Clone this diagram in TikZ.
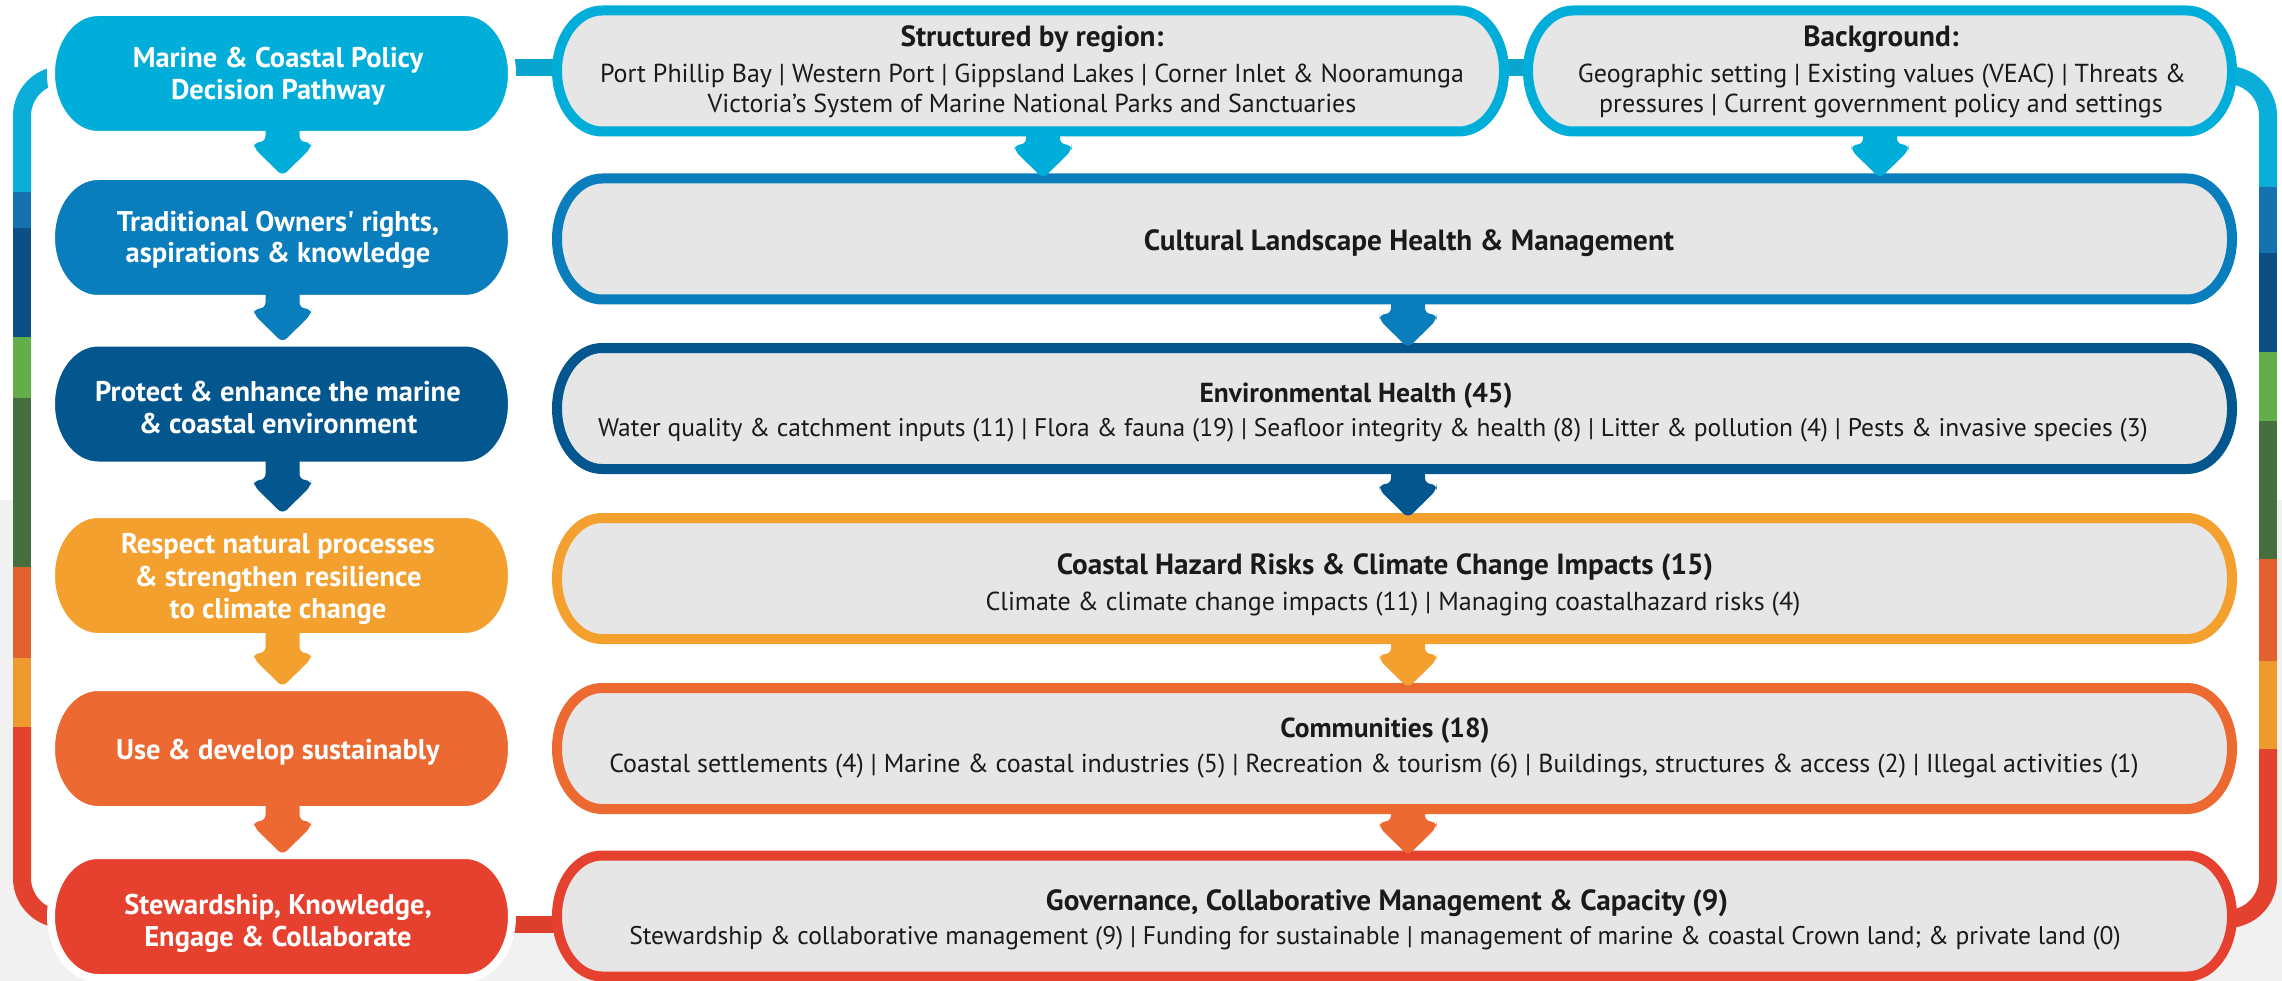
\documentclass[tikz,border=0pt]{standalone}
\usepackage{fontspec}
\setmainfont{PT Sans}
\usetikzlibrary{calc}
\definecolor{cCyan}{HTML}{00AED9}
\definecolor{cBlue}{HTML}{0A7DBC}
\definecolor{cDark}{HTML}{04568E}
\definecolor{cYel}{HTML}{F4A02E}
\definecolor{cOra}{HTML}{EC6A32}
\definecolor{cRed}{HTML}{E6412E}
\definecolor{bCyan}{HTML}{0AAED8}
\definecolor{bBlue}{HTML}{1572B0}
\definecolor{bDark}{HTML}{0B4F84}
\definecolor{bGreen}{HTML}{62AE48}
\definecolor{bDGreen}{HTML}{476F3E}
\definecolor{bOra}{HTML}{E1622E}
\definecolor{bYel}{HTML}{EF9A2F}
\definecolor{bRed}{HTML}{E2422E}
\definecolor{connCyan}{HTML}{09A5CE}
\definecolor{connRed}{HTML}{DC402C}
\definecolor{boxGrey}{HTML}{E6E6E6}
\definecolor{pageGrey}{HTML}{F1F1F1}
\definecolor{ink}{HTML}{1A1A1A}
\pgfdeclarelayer{back}\pgfdeclarelayer{bars}\pgfsetlayers{back,bars,main}
% chevron arrow from node #1 down to node #2 at x=#3, colour #4, start inset #5
\newcommand{\chev}[5]{%
  \fill[#4, rounded corners=6pt] let \p1=(#1.south), \p2=(#2.north) in
   (#3pt-17pt,\y1+#5) -- (#3pt-17pt,\y2+34pt) -- (#3pt-28.5pt,\y2+34pt) -- (#3pt-28.5pt,\y2+28pt)
   -- (#3pt,\y2) -- (#3pt+28.5pt,\y2+28pt) -- (#3pt+28.5pt,\y2+34pt) -- (#3pt+17pt,\y2+34pt)
   -- (#3pt+17pt,\y1+#5) -- cycle;}
% capsule with elliptic ends on node #2, x radius #3, y radius #4
\newcommand{\capsule}[4][]{%
  \path[#1] (#2.north west) ++(#3,0) -- ($(#2.north east)+(-#3,0)$)
    arc[start angle=90,end angle=-90,x radius=#3,y radius=#4]
    -- ($(#2.south west)+(#3,0)$)
    arc[start angle=-90,end angle=-270,x radius=#3,y radius=#4] -- cycle;}
\newcommand{\shadowed}[3]{%
  \capsule[fill=black, opacity=0.05, xshift=2pt, yshift=-4pt]{#1}{#2}{#3}%
  \capsule[fill=black, opacity=0.05, xshift=3pt, yshift=-8pt]{#1}{#2}{#3}}
\tikzset{
 lnode/.style={minimum width=461pt, minimum height=123pt, inner sep=0pt, outer sep=0pt},
 rnode/.style={minimum height=121pt, inner sep=0pt, outer sep=0pt},
 ltext/.style={text=white, font=\fontsize{28.5}{30}\selectfont\bfseries, anchor=base, inner sep=0pt},
 rhead/.style={text=ink, font=\fontsize{29.2}{30}\selectfont\bfseries, anchor=base, inner sep=0pt},
 rheadS/.style={text=ink, font=\fontsize{27.5}{30}\selectfont\bfseries, anchor=base, inner sep=0pt},
 rbody/.style={text=ink, font=\fontsize{26}{30}\selectfont, anchor=base, inner sep=0pt},
 rbodyS/.style={text=ink, font=\fontsize{25.5}{30}\selectfont, anchor=base, inner sep=0pt},
 bar/.style={line width=18pt},
 conn/.style={line width=17pt},
}
\begin{document}
\begin{tikzpicture}[x=1pt,y=-1pt]
\useasboundingbox (0,0) rectangle (2282,981);
\coordinate (yT) at (0,75);
\coordinate (yB) at (0,919);
\coordinate (yC) at (0,67.5);
\coordinate (yD) at (0,924);
% left column
\node[lnode] (L1) at (281.5,73.5) {};
\node[lnode] (L2) at (281.5,237.5) {};
\node[lnode] (L3) at (281.5,404) {};
\node[lnode] (L4) at (281.5,575.5) {};
\node[lnode] (L5) at (281.5,748.5) {};
\node[lnode] (L6) at (281.5,916.5) {};
% right column
\node[rnode, minimum width=947pt] (Rs) at (1030.5,71) {};
\node[rnode, minimum width=704pt] (Rb) at (1880,71) {};
\node[rnode, minimum width=1675pt] (R2) at (1394.5,239) {};
\node[rnode, minimum width=1675pt] (R3) at (1394.5,408.5) {};
\node[rnode, minimum width=1675pt] (R4) at (1394.5,578.5) {};
\node[rnode, minimum width=1675pt] (R5) at (1394.5,748.5) {};
\node[rnode, minimum width=1675pt] (R6) at (1394.5,916) {};
% backgrounds
\begin{pgfonlayer}{back}
\fill[white] (0,0) rectangle (2282,981);
\fill[pageGrey] (0,500) rectangle (2282,981);
\fill[white, rounded corners=41pt] (22,75) rectangle (2268,919);
\end{pgfonlayer}
\begin{pgfonlayer}{bars}
\draw[bar, bCyan, rounded corners=41pt] (L1.center |- yT) -- (22,75) -- (22,192.5);
\draw[bar, bBlue] (22,192) -- (22,228.5);
\draw[bar, bDark] (22,228) -- (22,337.5);
\draw[bar, bGreen] (22,337) -- (22,398.5);
\draw[bar, bDGreen] (22,398) -- (22,567.5);
\draw[bar, bOra] (22,567) -- (22,658.5);
\draw[bar, bYel] (22,658) -- (22,727.5);
\draw[bar, bRed, rounded corners=41pt] (22,727) -- (22,919) -- (L6.center |- yB);
\draw[bar, bCyan, rounded corners=41pt] (Rb.center |- yT) -- (2268,75) -- (2268,187.5);
\draw[bar, bBlue] (2268,187) -- (2268,253.5);
\draw[bar, bDark] (2268,253) -- (2268,352.5);
\draw[bar, bGreen] (2268,352) -- (2268,421.5);
\draw[bar, bDGreen] (2268,421) -- (2268,559.5);
\draw[bar, bOra] (2268,559) -- (2268,661.5);
\draw[bar, bYel] (2268,661) -- (2268,749.5);
\draw[bar, bRed, rounded corners=41pt] (2268,749) -- (2268,919) -- (R6.center |- yB);
\draw[conn, connCyan] (L1.center |- yC) -- (Rs.center |- yC);
\draw[conn, connCyan] (Rs.center |- yC) -- (Rb.center |- yC);
\draw[conn, connRed] (L6.center |- yD) -- (R6.center |- yD);
\end{pgfonlayer}
% right boxes
\foreach \n/\c in {Rs/cCyan, Rb/cCyan, R2/cBlue, R3/cDark, R4/cYel, R5/cOra, R6/cRed}{
  \shadowed{\n}{45pt}{60.5pt}
  \capsule[fill=boxGrey, draw=\c, line width=10pt]{\n}{45pt}{60.5pt}
}
% left boxes
\foreach \n/\c in {L1/cCyan, L2/cBlue, L3/cDark, L4/cYel, L5/cOra, L6/cRed}{
  \shadowed{\n}{47pt}{61.5pt}
  \capsule[fill=\c, draw=white, line width=8pt]{\n}{47pt}{61.5pt}
}
% arrows
\chev{L1}{L2}{282.5}{cCyan}{10pt}
\chev{L2}{L3}{282.5}{cBlue}{10pt}
\chev{L3}{L4}{282.5}{cDark}{10pt}
\chev{L4}{L5}{282.5}{cYel}{10pt}
\chev{L5}{L6}{282.5}{cOra}{10pt}
\chev{Rs}{R2}{1043}{cCyan}{3pt}
\chev{Rb}{R2}{1880}{cCyan}{3pt}
\chev{R2}{R3}{1408}{cBlue}{3pt}
\chev{R3}{R4}{1408}{cDark}{3pt}
\chev{R4}{R5}{1408}{cYel}{3pt}
\chev{R5}{R6}{1408}{cOra}{3pt}
% left texts
\node[ltext] (t1a) at (278,68) {Marine \& Coastal Policy};
\node[ltext] (t1b) at (278,100) {Decision Pathway};
\node[ltext] (t2a) at (278,232) {Traditional Owners\textquotesingle{} rights,};
\node[ltext] (t2b) at (278,263) {aspirations \& knowledge};
\node[ltext] (t3a) at (278,401.5) {Protect \& enhance the marine};
\node[ltext] (t3b) at (278,433) {\& coastal environment};
\node[ltext] (t4a) at (278,553) {Respect natural processes};
\node[ltext] (t4b) at (278,586.5) {\& strengthen resilience};
\node[ltext] (t4c) at (278,618.5) {to climate change};
\node[ltext] (t5) at (278,759) {Use \& develop sustainably};
\node[ltext] (t6a) at (278,914) {Stewardship, Knowledge,};
\node[ltext] (t6b) at (278,946) {Engage \& Collaborate};
% right texts
\node[rhead] (hs) at (1032,47) {Structured by region:};
\node[rbody] (s1) at (1032,83) {Port Phillip Bay | Western Port | Gippsland Lakes | Corner Inlet \& Nooramunga};
\node[rbody] (s2) at (1032,113) {Victoria’s System of Marine National Parks and Sanctuaries};
\node[rhead] (hb) at (1881,47) {Background:};
\node[rbody] (b1) at (1882,83) {Geographic setting | Existing values (VEAC) | Threats \&};
\node[rbody] (b2) at (1881,113) {pressures | Current government policy and settings};
\node[rhead] (h2) at (1409,251) {Cultural Landscape Health \& Management};
\node[rheadS] (h3) at (1356,402) {Environmental Health (45)};
\node[rbodyS] (e1) at (1373,436.5) {Water quality \& catchment inputs (11) | Flora \& fauna (19) | Seafloor integrity \& health (8) | Litter \& pollution (4) | Pests \& invasive species (3)};
\node[rhead] (h4) at (1385,574) {Coastal Hazard Risks \& Climate Change Impacts (15)};
\node[rbody] (c1) at (1393,610) {Climate \& climate change impacts (11) | Managing coastalhazard risks (4)};
\node[rheadS] (h5) at (1385,737) {Communities (18)};
\node[rbody] (m1) at (1374,772.5) {Coastal settlements (4) | Marine \& coastal industries (5) | Recreation \& tourism (6) | Buildings, structures \& access (2) | Illegal activities (1)};
\node[rhead] (h6) at (1387,910) {Governance, Collaborative Management \& Capacity (9)};
\node[rbodyS] (g1) at (1375,944) {Stewardship \& collaborative management (9) | Funding for sustainable | management of marine \& coastal Crown land; \& private land (0)};
\end{tikzpicture}
\end{document}
